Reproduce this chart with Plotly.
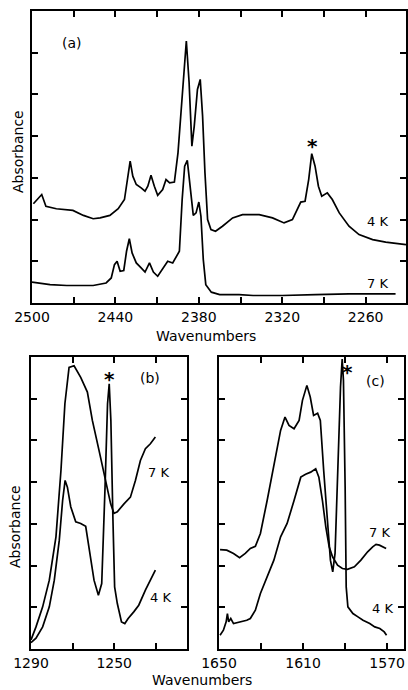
import plotly.graph_objects as go

# ---------- panel (a): CO2 stretch region ----------
a_wn_4k = [2499, 2493, 2490, 2482.5, 2470.6, 2463, 2456, 2451, 2444, 2438, 2433.5, 2431.6,
           2429.4, 2427.5, 2425, 2421.5, 2418.7, 2416.7, 2414.4, 2412, 2409.6, 2406, 2403.6,
           2401, 2397.6, 2395, 2393, 2391, 2389, 2387, 2385, 2383.3, 2381, 2379, 2377.3,
           2375.6, 2373.7, 2371.3, 2368, 2363, 2355.7, 2348.6, 2336.6, 2327, 2318.7, 2312.7,
           2309, 2306.7, 2303.6, 2301, 2298.8, 2296.4, 2294, 2291.6, 2287.6, 2284, 2279,
           2272, 2264.8, 2255, 2245.6, 2231]
a_abs_4k = [2.38, 2.60, 2.32, 2.26, 2.22, 2.10, 2.02, 2.04, 2.10, 2.26, 2.48, 2.96,
            3.40, 3.04, 2.84, 2.76, 2.68, 2.80, 3.06, 2.80, 2.58, 2.72, 2.96,
            2.88, 2.90, 3.60, 4.48, 5.44, 6.28, 5.28, 3.76, 4.24, 5.12, 5.36, 4.48,
            3.12, 2.00, 1.76, 1.72, 1.84, 2.04, 2.12, 2.12, 2.04, 1.92, 2.00,
            2.24, 2.42, 2.44, 2.96, 3.58, 3.28, 2.80, 2.56, 2.64, 2.48, 2.16,
            1.84, 1.64, 1.52, 1.46, 1.40]

a_wn_7k = [2500, 2487, 2475, 2456, 2446.7, 2443, 2440.7, 2438.8, 2436.6, 2434, 2432, 2430,
           2428, 2425, 2421.5, 2418.7, 2415.5, 2412.7, 2409.6, 2406, 2402.4, 2398.8, 2394,
           2392, 2390.2, 2388.3, 2386.4, 2384, 2382, 2380, 2378.5, 2376.8, 2375, 2371,
           2365, 2351, 2341, 2320, 2296, 2272, 2238.5]
a_abs_7k = [0.50, 0.44, 0.42, 0.42, 0.48, 0.60, 0.92, 1.00, 0.76, 0.78, 1.24, 1.54,
            1.20, 0.96, 0.84, 0.74, 0.96, 0.74, 0.64, 0.82, 1.00, 0.96, 1.24,
            2.48, 3.28, 3.42, 2.88, 2.10, 2.16, 2.42, 2.08, 1.04, 0.44, 0.26,
            0.20, 0.20, 0.18, 0.18, 0.20, 0.22, 0.22]

# ---------- panel (b) ----------
b_wn_7k = [1290, 1287.6, 1284.4, 1281.2, 1278, 1275.6, 1273.7, 1271.7, 1269.3, 1266.1,
           1262.9, 1260.5, 1257.3, 1254.1, 1251.7, 1250.1, 1248.5, 1245.3, 1242.2,
           1239.8, 1237.4, 1235, 1232.6, 1230.2]
b_abs_7k = [0.22, 0.53, 1.01, 1.65, 2.69, 4.28, 5.88, 6.75, 6.79, 6.51,
            6.16, 5.48, 4.76, 4.04, 3.48, 3.25, 3.29, 3.48, 3.64,
            4.04, 4.52, 4.80, 4.92, 5.08]

b_wn_4k = [1290, 1287.6, 1284.4, 1281.2, 1278.8, 1276.4, 1274.8, 1273.6, 1272.5, 1270.9,
           1268.5, 1266.1, 1263.7, 1261.8, 1259.7, 1257.6, 1256, 1254.4, 1253.2, 1252.4,
           1251.6, 1250.6, 1249.8, 1248.5, 1246.5, 1244.9, 1243.3, 1240.6, 1238.2, 1235,
           1232.6, 1230.2]
b_abs_4k = [0.15, 0.26, 0.53, 1.01, 1.65, 2.61, 3.56, 4.04, 3.88, 3.41,
            3.05, 3.01, 2.94, 2.29, 1.65, 1.29, 1.57, 3.88, 5.88, 6.36,
            5.48, 3.09, 1.49, 1.09, 0.65, 0.61, 0.73, 0.89, 1.05, 1.41,
            1.65, 1.89]

# ---------- panel (c) ----------
c_wn_4k = [1649.5, 1646.3, 1643.1, 1640.2, 1637.5, 1635.1, 1632.7, 1630.3, 1627.1, 1623.9,
           1620.7, 1618.6, 1616.7, 1614.3, 1611.9, 1610.3, 1608.2, 1606.6, 1605, 1603.1,
           1601.8, 1600.2, 1598.6, 1597, 1595.9, 1594.8, 1593.5, 1592.2, 1591.4, 1590.8,
           1590, 1589.5, 1588.7, 1586.3, 1583.9, 1581.5, 1578.3, 1575.9, 1573.5, 1571.4,
           1570.3]
c_abs_4k = [2.38, 2.37, 2.29, 2.19, 2.29, 2.41, 2.46, 2.77, 3.56, 4.44,
            5.24, 5.56, 5.36, 5.28, 5.48, 5.96, 6.32, 6.04, 5.60, 5.65,
            5.48, 4.28, 3.09, 2.13, 1.85, 2.29, 4.28, 6.28, 6.95, 6.44,
            3.88, 1.49, 1.01, 0.85, 0.77, 0.69, 0.61, 0.53, 0.49, 0.41,
            0.33]

c_wn_7k = [1649.5, 1647.9, 1646.6, 1646, 1645.4, 1644.4, 1643.1, 1639.9, 1636.8, 1635.1,
           1632.7, 1630.3, 1627.1, 1623.9, 1620.7, 1617.6, 1614.3, 1611.1, 1608.8, 1606.4,
           1604, 1602.5, 1600.8, 1599.2, 1597.6, 1596, 1593.6, 1591.3, 1588.9, 1585.6,
           1582.5, 1579.3, 1576.9, 1575.3, 1573.7, 1570.5]
c_abs_7k = [0.33, 0.45, 0.65, 0.85, 0.65, 0.73, 0.61, 0.65, 0.69, 0.73,
            0.93, 1.33, 1.73, 2.13, 2.69, 3.01, 3.56, 4.12, 4.19, 4.24,
            4.32, 4.12, 3.56, 2.93, 2.45, 2.21, 2.01, 1.93, 1.91, 1.97,
            2.13, 2.33, 2.45, 2.51, 2.49, 2.41]

# tick positions / labels
a_ticks = [2500, 2470, 2440, 2410, 2380, 2350, 2320, 2290, 2260]
a_ticktext = ["2500", "", "2440", "", "2380", "", "2320", "", "2260"]
b_ticks = [1290, 1270, 1250, 1230]
b_ticktext = ["1290", "", "1250", ""]
c_ticks = [1650, 1630, 1610, 1590, 1570]
c_ticktext = ["1650", "", "1610", "", "1570"]
y_ticks = [1, 2, 3, 4, 5, 6]

W, H = 408, 690
FONT = "DejaVu Sans"
line = dict(color="black", width=1.7)

fig = go.Figure()
fig.add_trace(go.Scatter(x=a_wn_4k, y=a_abs_4k, mode="lines", line=line, xaxis="x", yaxis="y"))
fig.add_trace(go.Scatter(x=a_wn_7k, y=a_abs_7k, mode="lines", line=line, xaxis="x", yaxis="y"))
fig.add_trace(go.Scatter(x=b_wn_7k, y=b_abs_7k, mode="lines", line=line, xaxis="x2", yaxis="y2"))
fig.add_trace(go.Scatter(x=b_wn_4k, y=b_abs_4k, mode="lines", line=line, xaxis="x2", yaxis="y2"))
fig.add_trace(go.Scatter(x=c_wn_4k, y=c_abs_4k, mode="lines", line=line, xaxis="x3", yaxis="y3"))
fig.add_trace(go.Scatter(x=c_wn_7k, y=c_abs_7k, mode="lines", line=line, xaxis="x3", yaxis="y3"))


def px_x(p):
    return p / W


def px_y(p):
    return 1 - p / H


common = dict(showgrid=False, zeroline=False, showline=True, linecolor="black", linewidth=2,
              mirror="ticks", ticks="inside", ticklen=6, tickwidth=1.5, tickcolor="black",
              automargin=False,
              tickfont=dict(family=FONT, size=14, color="black"))

fig.update_layout(
    template="none",
    width=W, height=H, margin=dict(l=0, r=0, t=0, b=0, pad=0),
    paper_bgcolor="white", plot_bgcolor="white", showlegend=False,
    xaxis=dict(domain=[px_x(32), px_x(406)], range=[2500, 2231], anchor="y",
               tickvals=a_ticks, ticktext=a_ticktext, **common),
    yaxis=dict(domain=[px_y(303), px_y(11)], range=[0, 7], anchor="x",
               tickvals=y_ticks, showticklabels=False, **common),
    xaxis2=dict(domain=[px_x(31), px_x(187)], range=[1290, 1215], anchor="y2",
                tickvals=b_ticks, ticktext=b_ticktext, **common),
    yaxis2=dict(domain=[px_y(649), px_y(357)], range=[0, 7], anchor="x2",
                tickvals=y_ticks, showticklabels=False, **common),
    xaxis3=dict(domain=[px_x(219), px_x(404)], range=[1650, 1562], anchor="y3",
                tickvals=c_ticks, ticktext=c_ticktext, **common),
    yaxis3=dict(domain=[px_y(649), px_y(357)], range=[0, 7], anchor="x3",
                tickvals=y_ticks, showticklabels=False, **common),
)


def label(text, x, y, size=14, angle=0, bold=False):
    fig.add_annotation(text=f"<b>{text}</b>" if bold else text,
                       x=px_x(x), y=px_y(y), xref="paper", yref="paper",
                       showarrow=False, textangle=angle, xanchor="center", yanchor="middle",
                       font=dict(family=FONT, size=size, color="black"))


label("(a)", 72, 43)
label("(b)", 150, 378)
label("(c)", 375, 381)
label("*", 312, 146, size=20, bold=True)
label("*", 109, 379, size=20, bold=True)
label("*", 347, 372, size=20, bold=True)
label("4 K", 377, 222, size=13)
label("7 K", 377, 283, size=13)
label("7 K", 158, 472, size=13)
label("4 K", 160, 597, size=13)
label("7 K", 379, 532, size=13)
label("4 K", 382, 608, size=13)
label("Wavenumbers", 206, 336)
label("Wavenumbers", 202, 680)
label("Absorbance", 18, 152, angle=-90)
label("Absorbance", 15, 527, angle=-90)

fig.write_html("out.html")
